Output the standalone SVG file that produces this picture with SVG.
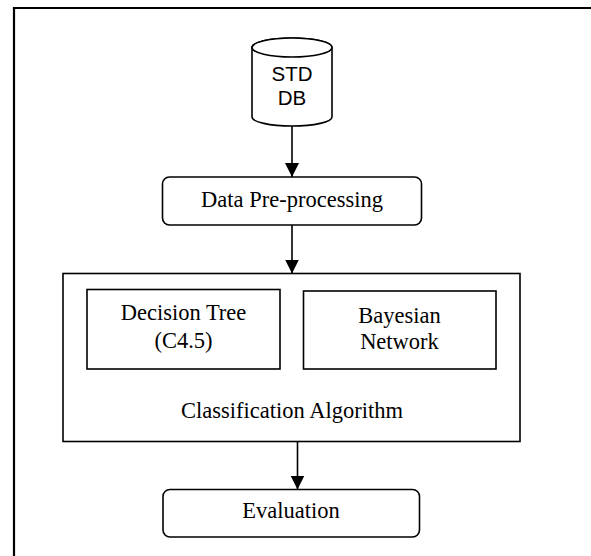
<svg xmlns="http://www.w3.org/2000/svg" width="591" height="556" viewBox="0 0 591 556">
<style>
.box{fill:#fff;stroke:#000;stroke-width:1.6}
.serif{font-family:"Liberation Serif","Times New Roman",serif;font-size:22.5px;fill:#000;text-anchor:middle}
.sans{font-family:"Liberation Sans",Arial,sans-serif;font-size:20.5px;fill:#000;text-anchor:middle}
.conn{stroke:#000;stroke-width:1.6;fill:none}
</style>
<defs>
<marker id="arr" markerUnits="userSpaceOnUse" markerWidth="16" markerHeight="16" viewBox="0 0 16 16" refX="14" refY="8" orient="auto">
<path d="M0,1 L14,8 L0,15 Z" fill="#000"/>
</marker>
</defs>
<rect x="0" y="0" width="591" height="556" fill="#fff"/>
<path d="M14,556 V8 H591" fill="none" stroke="#000" stroke-width="2.2"/>
<g id="std-db">
<path class="box" d="M252,47.5 V117 A40,9 0 0 0 332,117 V47.5 A40,9.5 0 0 0 252,47.5 Z"/>
<ellipse class="box" cx="292" cy="47.5" rx="40" ry="9.5"/>
<text class="sans" x="292" y="81">STD</text>
<text class="sans" x="292" y="104.5">DB</text>
</g>
<g id="preprocessing">
<rect class="box" x="162.5" y="177" width="259" height="48" rx="7"/>
<text class="serif" x="292" y="207">Data Pre-processing</text>
</g>
<g id="classification">
<rect class="box" x="63" y="273.5" width="457" height="168"/>
<text class="serif" x="292" y="418">Classification Algorithm</text>
</g>
<g id="decision-tree">
<rect class="box" x="87" y="289.5" width="193" height="79.5"/>
<text class="serif" x="183.5" y="320">Decision Tree</text>
<text class="serif" x="183.5" y="348">(C4.5)</text>
</g>
<g id="bayesian">
<rect class="box" x="303.5" y="291" width="192.5" height="78"/>
<text class="serif" x="399.5" y="323">Bayesian</text>
<text class="serif" x="399.5" y="349">Network</text>
</g>
<g id="evaluation">
<rect class="box" x="163" y="489.5" width="256.5" height="47.5" rx="7"/>
<text class="serif" x="291" y="517.5">Evaluation</text>
</g>
<g id="connectors">
<line class="conn" x1="292" y1="126" x2="292" y2="177" marker-end="url(#arr)"/>
<line class="conn" x1="292" y1="225" x2="292" y2="273.5" marker-end="url(#arr)"/>
<line class="conn" x1="297.5" y1="441.5" x2="297.5" y2="489.5" marker-end="url(#arr)"/>
</g>
</svg>
